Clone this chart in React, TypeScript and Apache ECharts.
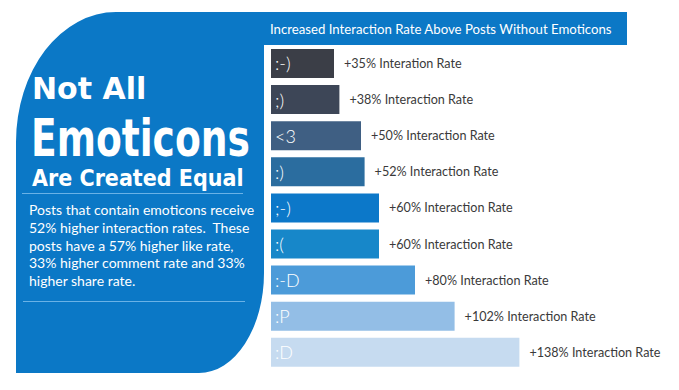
import React, { useEffect, useRef } from "react";
import * as echarts from "echarts";

const emoticons = [":-)", ";)", "<3", ":)", ";-)", ":(", ":-D", ":P", ":D"];
const rates = [35, 38, 50, 52, 60, 60, 80, 102, 138];
const rateWords = [
  "Interation Rate",
  "Interaction Rate",
  "Interaction Rate",
  "Interaction Rate",
  "Interaction Rate",
  "Interaction Rate",
  "Interaction Rate",
  "Interaction Rate",
  "Interaction Rate",
];
const barColors = [
  "#3b3e47",
  "#3d4657",
  "#3f5f83",
  "#2b6d9f",
  "#0c78c9",
  "#1787c9",
  "#4c9bd9",
  "#93bee6",
  "#c6dbf0",
];
const headerTitle = "Increased Interaction Rate Above Posts Without Emoticons";
const titleLines = ["Not All", "Emoticons", "Are Created Equal"];
const paragraph = [
  "Posts that contain emoticons receive",
  "52% higher interaction rates.  These",
  "posts have a 57% higher like rate,",
  "33% higher comment rate and 33%",
  "higher share rate.",
];

const panelPath =
  "M116 12 L627 12 L627 45 L264 45 L264 273 A65 100 0 0 1 199 373 L16 373 L16 142 A100 130 0 0 1 116 12 Z";

let registered = false;

export default function App() {
  const ref = useRef<HTMLDivElement>(null);
  useEffect(() => {
    if (!ref.current) return;
    if (!registered) {
      echarts.graphic.registerShape("panel", echarts.graphic.extendPath(panelPath, {}));
      registered = true;
    }
    const chart = echarts.init(ref.current, null, { renderer: "svg" });
    const blue = "#0b78c6";
    chart.setOption({
      animation: false,
      backgroundColor: "#ffffff",
      grid: { left: 271, top: 45.4, width: 360, height: 325, containLabel: false },
      xAxis: { type: "value", min: 0, max: 200, show: false },
      yAxis: {
        type: "category",
        data: emoticons,
        inverse: true,
        show: false,
      },
      graphic: [
        {
          type: "panel",
          x: 0,
          y: 0,
          z: -10,
          style: { fill: blue },
        },
        {
          type: "text",
          x: 270,
          y: 28.5,
          style: {
            text: headerTitle,
            fill: "#ffffff",
            font: "13.2px Lato",
            textAlign: "left",
            textVerticalAlign: "middle",
          },
        },
        {
          type: "text",
          x: 32,
          y: 88,
          style: {
            text: titleLines[0],
            fill: "#ffffff",
            font: "bold 30px 'DejaVu Sans'",
            textAlign: "left",
            textVerticalAlign: "middle",
          },
        },
        {
          type: "text",
          x: 31,
          y: 139,
          scaleX: 0.82,
          style: {
            text: titleLines[1],
            fill: "#ffffff",
            font: "bold 51px 'DejaVu Sans Condensed'",
            textAlign: "left",
            textVerticalAlign: "middle",
          },
        },
        {
          type: "text",
          x: 32,
          y: 178,
          style: {
            text: titleLines[2],
            fill: "#ffffff",
            font: "bold 23px 'DejaVu Sans Condensed'",
            textAlign: "left",
            textVerticalAlign: "middle",
          },
        },
        {
          type: "line",
          shape: { x1: 22, y1: 193.5, x2: 243, y2: 193.5 },
          style: { stroke: "#6ab2e6", lineWidth: 1 },
        },
        {
          type: "text",
          x: 29,
          y: 201,
          style: {
            text: paragraph.join("\n"),
            fill: "#ffffff",
            font: "14px Lato",
            lineHeight: 17.7,
            textAlign: "left",
            textVerticalAlign: "top",
          },
        },
        {
          type: "line",
          shape: { x1: 23, y1: 301.5, x2: 245, y2: 301.5 },
          style: { stroke: "#6ab2e6", lineWidth: 1 },
        },
      ],
      series: [
        {
          type: "bar",
          barWidth: 29,
          data: rates.map((v, i) => ({ value: v, itemStyle: { color: barColors[i] } })),
          label: {
            show: true,
            position: "right",
            distance: 10,
            color: "#3a3a3a",
            fontFamily: "Lato",
            fontSize: 12.6,
            formatter: (p: any) => `+${p.value}% ${rateWords[p.dataIndex]}`,
          },
          silent: true,
        },
        {
          type: "bar",
          barWidth: 29,
          barGap: "-100%",
          data: rates,
          itemStyle: { color: "rgba(0,0,0,0)" },
          label: {
            show: true,
            position: "insideLeft",
            distance: 4,
            color: "#ffffff",
            fontFamily: "Lato",
            fontSize: 18,
            fontWeight: 300,
            formatter: (p: any) => emoticons[p.dataIndex],
          },
          silent: true,
        },
      ],
    });
    return () => chart.dispose();
  }, []);
  return (
    <div
      ref={ref}
      style={{ position: "fixed", left: 0, top: 0, width: 679, height: 390 }}
    />
  );
}
